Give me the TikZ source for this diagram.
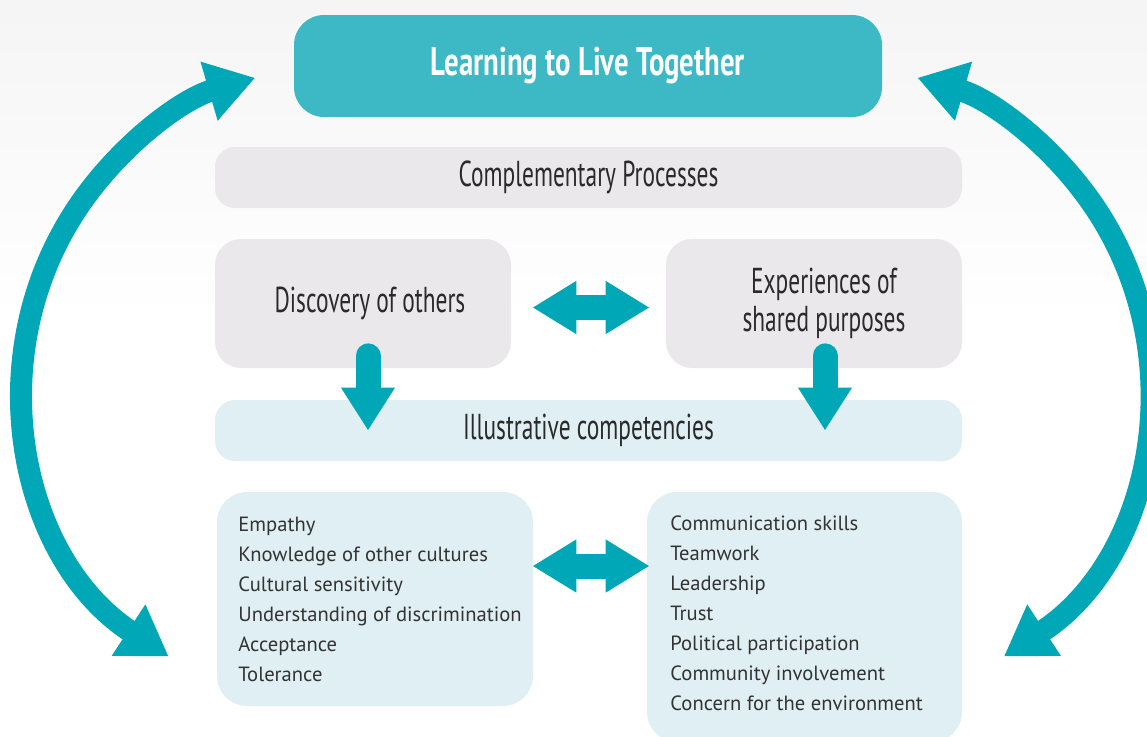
\documentclass[tikz,border=0pt]{standalone}
\usepackage{fontspec}
\setmainfont{PT Sans}
\newfontfamily\headfont[FakeStretch=0.65]{PT Sans}
\newfontfamily\titlefont[FakeStretch=0.72]{PT Sans}
\usetikzlibrary{arrows.meta,calc}
\definecolor{arrc}{HTML}{00A7B6}
\definecolor{titlec}{HTML}{3DB9C5}
\definecolor{greyc}{HTML}{EAE8EA}
\definecolor{bluec}{HTML}{E0EFF3}
\definecolor{txtc}{HTML}{2A2A2A}
\definecolor{itemc}{HTML}{333333}
\tikzset{
  boxbase/.style={inner sep=0pt, text=txtc},
  titlebox/.style={boxbase, fill=titlec, rounded corners=15pt, minimum width=294pt, minimum height=51pt,
     text=white, font=\titlefont\bfseries\fontsize{20}{22}\selectfont},
  greybar/.style={boxbase, fill=greyc, rounded corners=10pt, minimum width=373.5pt, minimum height=30.5pt,
     font=\headfont\fontsize{18}{19}\selectfont},
  greybox/.style={boxbase, fill=greyc, rounded corners=13pt, minimum width=148pt, minimum height=64.5pt,
     font=\headfont\fontsize{18}{19}\selectfont, align=center},
  bluebar/.style={greybar, fill=bluec},
  bluebox/.style={boxbase, fill=bluec, rounded corners=15pt},
  item/.style={inner sep=0pt, anchor=base west, text=itemc, font=\fontsize{10.3}{12}\selectfont},
  arcarrow/.style={draw=arrc, line width=11pt, {Triangle[width=29pt,length=24pt]}-{Triangle[width=29pt,length=24pt]}},
  downarrow/.style={draw=arrc, line width=12.5pt, line cap=round, -{Triangle[width=25.5pt,length=21.5pt]}},
  duoarrow/.style={draw=arrc, line width=12.5pt, {Triangle[width=25pt,length=22pt]}-{Triangle[width=25pt,length=22pt]}}
}
\begin{document}
\begin{tikzpicture}[x=0.5pt,y=-0.5pt]
\useasboundingbox (0,0) rectangle (1147,736);
\clip (0,0) rectangle (1147,736);
\fill[top color=black!4, bottom color=white] (0,0) rectangle (1147,320);
% boxes
\node[titlebox] (title) at (588,66) {\raisebox{-3pt}{Learning to Live Together}};
\node[greybar] (comp) at (588.5,177.5) {Complementary Processes};
\node[greybox] (disc) at (363,303.5) {\hspace*{7pt}Discovery of others};
\node[greybox] (exp) at (814,303.5) {\hspace*{10pt}Experiences of\\\hspace*{10pt}shared purposes};
\node[bluebar] (ill) at (588.5,430.5) {Illustrative competencies};
\node[bluebox, minimum width=158pt, minimum height=107pt] (lbox) at (375,599) {};
\node[bluebox, minimum width=157.5pt, minimum height=125pt] (rbox) at (804.5,617) {};
% list texts
\foreach \t [count=\i from 0] in {Empathy, Knowledge of other cultures, Cultural sensitivity,
  Understanding of discrimination, Acceptance, Tolerance}
  \node[item] (a\i) at (238,531+30*\i) {\t};
\foreach \t [count=\i from 0] in {Communication skills, Teamwork, Leadership, Trust,
  Political participation, Community involvement, Concern for the environment}
  \node[item] (b\i) at (670,530+30*\i) {\t};
% arrow end points
\coordinate (d1s) at ($(disc.south)+(5,-12.5)$);
\coordinate (d1e) at (d1s |- ill.center);
\coordinate (d2s) at ($(exp.south)+(11,-12.5)$);
\coordinate (d2e) at (d2s |- ill.center);
\coordinate (h1a) at ($(disc.east)+(21,4)$);
\coordinate (h1b) at ($(exp.west)+(-16,4)$);
\coordinate (h2a) at ($(lbox.east)+(-1,-33)$);
\coordinate (h2b) at ($(rbox.west)+(3,-51)$);
\coordinate (lc) at (345,387);
\coordinate (rc) at (827.6,387);
\coordinate (la) at ($(lc)+(123.2:322)$);
\coordinate (ra) at ($(rc)+(56.8:322)$);
% arrows
\draw[downarrow] (d1s) -- (d1e);
\draw[downarrow] (d2s) -- (d2e);
\draw[duoarrow] (h1a) -- (h1b);
\draw[duoarrow] (h2a) -- (h2b);
\draw[arcarrow] (la) arc[start angle=123.2, end angle=253.8, radius=322];
\draw[arcarrow] (ra) arc[start angle=56.8, end angle=-73.8, radius=322];
\end{tikzpicture}
\end{document}
